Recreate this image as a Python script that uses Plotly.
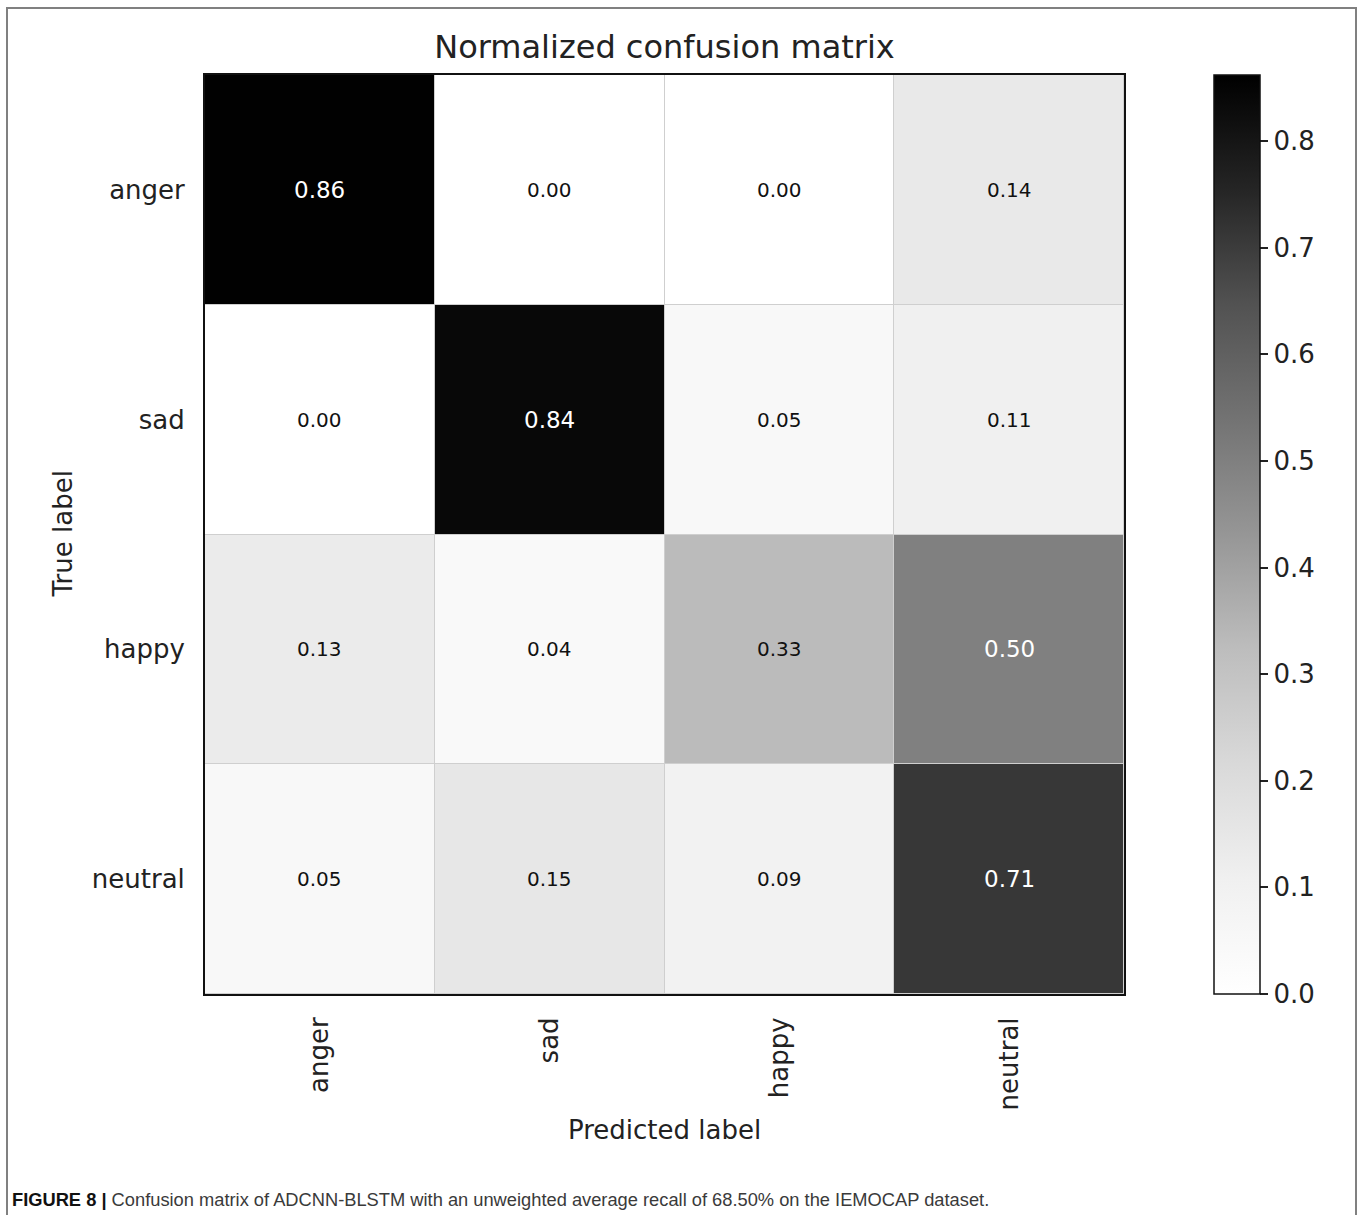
import plotly.graph_objects as go

# Emotion classes (rows: true label, columns: predicted label)
classes = ["anger", "sad", "happy", "neutral"]

# Row-normalised confusion matrix values
row_anger = [0.86, 0.00, 0.00, 0.14]
row_sad = [0.00, 0.84, 0.05, 0.11]
row_happy = [0.13, 0.04, 0.33, 0.50]
row_neutral = [0.05, 0.15, 0.09, 0.71]
matrix = [row_anger, row_sad, row_happy, row_neutral]

# Colour scale limits and colorbar ticks
cbar_min = 0.0
cbar_max = 0.862
cbar_ticks = [0.0, 0.1, 0.2, 0.3, 0.4, 0.5, 0.6, 0.7, 0.8]

caption_head = "FIGURE 8 |"
caption_body = ("Confusion matrix of ADCNN-BLSTM with an unweighted average recall "
                "of 68.50% on the IEMOCAP dataset.")

# matplotlib "Greys" colormap
greys = [
    [0.0, "#ffffff"], [0.125, "#f0f0f0"], [0.25, "#d9d9d9"],
    [0.375, "#bdbdbd"], [0.5, "#969696"], [0.625, "#737373"],
    [0.75, "#525252"], [0.875, "#252525"], [1.0, "#000000"],
]

W, H = 1358, 1215
L, R, T, B = 205, 1124, 75, 994          # plot area in pixels
PW, PH = R - L, B - T

def px_x(x):
    return (x - L) / PW

def px_y(y):
    return (B - y) / PH

thresh = max(max(r) for r in matrix) / 2.0

fig = go.Figure()
fig.add_trace(go.Heatmap(
    z=matrix, x=classes, y=classes,
    zmin=cbar_min, zmax=cbar_max,
    colorscale=greys,
    xgap=1, ygap=1,
    hoverinfo="skip",
    colorbar=dict(
        x=px_x(1214), xanchor="left", xpad=0, ypad=0,
        y=0.5, yanchor="middle", len=1.0, lenmode="fraction",
        thickness=46, thicknessmode="pixels",
        outlinewidth=1.5, outlinecolor="#111111",
        tickvals=cbar_ticks, tickformat=".1f",
        ticks="outside", ticklen=8, tickwidth=1.5, tickcolor="#222222",
        tickfont=dict(family="DejaVu Sans", size=26, color="#222222"),
    ),
))

# Cell value labels: white text on dark cells, black on light ones
annotations = []
for i, row in enumerate(matrix):
    for j, v in enumerate(row):
        dark = v > thresh
        annotations.append(dict(
            x=classes[j], y=classes[i], xref="x", yref="y",
            text=f"{v:.2f}", showarrow=False,
            font=dict(family="DejaVu Sans", size=23 if dark else 20,
                      color="#ffffff" if dark else "#111111"),
        ))

# Axis titles
annotations.append(dict(
    x=px_x(62), y=0.5, xref="paper", yref="paper", text="True label",
    textangle=-90, showarrow=False, xanchor="center", yanchor="middle",
    font=dict(family="DejaVu Sans", size=26, color="#222222"),
))
annotations.append(dict(
    x=0.5, y=px_y(1130), xref="paper", yref="paper", text="Predicted label",
    showarrow=False, xanchor="center", yanchor="middle",
    font=dict(family="DejaVu Sans", size=26, color="#222222"),
))

# Figure caption
annotations.append(dict(
    x=px_x(10), y=px_y(1199), xref="paper", yref="paper",
    text=f"<b>{caption_head}</b> <span style='color:#3a3a3a'>{caption_body}</span>",
    showarrow=False, xanchor="left", yanchor="middle",
    font=dict(family="Liberation Sans", size=18.3, color="#111111"),
))

fig.update_layout(
    width=W, height=H,
    margin=dict(l=L, r=W - R, t=T, b=H - B, pad=0),
    paper_bgcolor="#ffffff",
    plot_bgcolor="#cfcfcf",
    title=dict(
        text="Normalized confusion matrix",
        x=0.5, xref="paper", xanchor="center",
        y=1 - 47 / H, yref="container", yanchor="middle",
        font=dict(family="DejaVu Sans", size=32, color="#222222"),
    ),
    annotations=annotations,
    shapes=[dict(
        type="rect", xref="paper", yref="paper",
        x0=px_x(7), x1=px_x(1356), y0=px_y(1240), y1=px_y(8),
        line=dict(color="#808080", width=2), fillcolor="rgba(0,0,0,0)",
        layer="below",
    )],
    showlegend=False,
)

fig.update_xaxes(
    type="category", tickangle=-90, ticks="", ticklabelstandoff=11,
    tickfont=dict(family="DejaVu Sans", size=26, color="#222222"),
    showline=True, linecolor="#111111", linewidth=2, mirror=True,
    showgrid=False, zeroline=False, fixedrange=True,
)
fig.update_yaxes(
    type="category", autorange="reversed", ticks="", ticklabelstandoff=13,
    tickfont=dict(family="DejaVu Sans", size=26, color="#222222"),
    showline=True, linecolor="#111111", linewidth=2, mirror=True,
    showgrid=False, zeroline=False, fixedrange=True,
)

fig.write_html("out.html")
